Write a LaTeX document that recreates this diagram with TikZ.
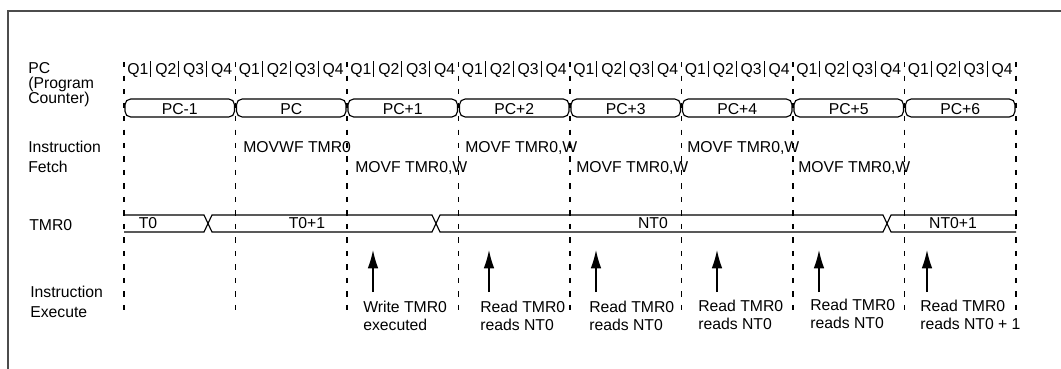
\documentclass[tikz,border=0pt]{standalone}
\usepackage{fontspec}
\setmainfont{Liberation Sans}
\usetikzlibrary{arrows.meta}

\begin{document}
\begin{tikzpicture}[x=0.025cm,y=-0.025cm,lbl/.style={anchor=base west,align=left,inner sep=0pt,font=\fontsize{11.2}{10.7}\selectfont},txt/.style={anchor=base west,inner sep=0pt,font=\fontsize{11.2}{12}\selectfont},exe/.style={lbl,font=\fontsize{11.2}{12.8}\selectfont},val/.style={inner sep=0pt,font=\fontsize{11.2}{12}\selectfont},bus/.style={line width=0.8pt},cyc/.style={line width=0.8pt,dash pattern=on 3.6pt off 6pt},arr/.style={-{Latex[length=13pt,width=7.5pt]},line width=0.9pt}]
\useasboundingbox (0,0) rectangle (1061,369);
\draw[line width=1.6pt,black!70] (1061,11) -- (8,11) -- (8,369);
\node[lbl] (pclbl) at (28,103.5) {PC\\(Program\\Counter)};
\node[lbl,font=\fontsize{11.2}{14.2}\selectfont] (fetchlbl) at (28,172.5) {Instruction\\Fetch};
\node[lbl] (tmrlbl) at (29,230) {TMR0};
\node[lbl,font=\fontsize{11.2}{14.2}\selectfont] (execlbl) at (30,317.5) {Instruction\\Execute};
\foreach \c in {0,...,8} \draw[cyc] ({124+111.5*\c},62) -- ({124+111.5*\c},316);
\foreach \c in {0,...,7} {
  \foreach \q in {1,...,4} \node[val,anchor=base] (q\c\q) at ({124+111.5*\c+27.875*(\q-0.5)},74.5) {Q\q};
  \foreach \q in {1,2,3} \draw[line width=0.8pt] ({124+111.5*\c+27.875*\q-1},61) -- ++(0,16);
}
\foreach \c/\t in {0/PC-1,1/PC,2/PC+1,3/PC+2,4/PC+3,5/PC+4,6/PC+5,7/PC+6} {
  \draw[bus,rounded corners=4pt] ({124+111.5*\c+1},99) rectangle ({124+111.5*(\c+1)-1},117);
  \node[val] (pc\c) at ({124+111.5*(\c+0.5)},109.5) {\t};
}
\node[txt] (fetch1) at (243,152.5) {MOVWF TMR0};
\node[txt] (fetch2) at (355,172.5) {MOVF TMR0,W};
\node[txt] (fetch3) at (465,152.5) {MOVF TMR0,W};
\node[txt] (fetch4) at (576,172.5) {MOVF TMR0,W};
\node[txt] (fetch5) at (687,152.5) {MOVF TMR0,W};
\node[txt] (fetch6) at (798,172.5) {MOVF TMR0,W};
\draw[bus] (124,215) -- (204,215) -- (212,232) -- (432,232) -- (440,215) -- (883,215) -- (891,232) -- (1016,232);
\draw[bus] (124,232) -- (204,232) -- (212,215) -- (432,215) -- (440,232) -- (883,232) -- (891,215) -- (1016,215);
\node[val] (t0) at (148,223.5) {T0};
\node[val] (t1) at (307,223.5) {T0+1};
\node[val] (nt0) at (653,223.5) {NT0};
\node[val] (nt1) at (953,223.5) {NT0+1};
\coordinate (a3) at (373,292); \coordinate (h3) at (373,250);
\coordinate (a4) at (489,292); \coordinate (h4) at (489,250);
\coordinate (a5) at (596,292); \coordinate (h5) at (596,250);
\coordinate (a6) at (717,292); \coordinate (h6) at (717,250);
\coordinate (a7) at (819,292); \coordinate (h7) at (819,250);
\coordinate (a8) at (927,292); \coordinate (h8) at (927,250);
\draw[arr] (a3) -- (h3);
\draw[arr] (a4) -- (h4);
\draw[arr] (a5) -- (h5);
\draw[arr] (a6) -- (h6);
\draw[arr] (a7) -- (h7);
\draw[arr] (a8) -- (h8);
\node[exe] (exec3) at (363,330.5) {Write TMR0\\executed};
\node[exe] (exec4) at (480,330) {Read TMR0\\reads NT0};
\node[exe] (exec5) at (589,330) {Read TMR0\\reads NT0};
\node[exe] (exec6) at (698,329.5) {Read TMR0\\reads NT0};
\node[exe] (exec7) at (810,328) {Read TMR0\\reads NT0};
\node[exe] (exec8) at (920,329.5) {Read TMR0\\reads NT0 + 1};
\end{tikzpicture}
\end{document}
